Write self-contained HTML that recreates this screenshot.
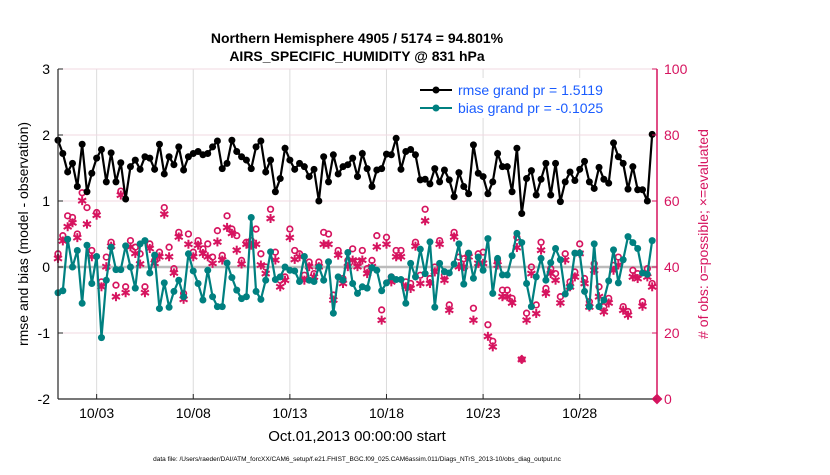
<!DOCTYPE html>
<html><head><meta charset="utf-8"><style>
body{margin:0;background:#fff;}
svg text{font-family:"Liberation Sans",Arial,sans-serif;}
</style></head><body>
<svg id="chart" width="830" height="470" xmlns="http://www.w3.org/2000/svg">
<rect width="830" height="470" fill="#fff"/>
<g id="grid"></g>
<g id="marks"></g>
<g id="axes"></g>
<text x="357" y="43" text-anchor="middle" font-size="14" font-weight="bold">Northern Hemisphere 4905 / 5174 = 94.801%</text>
<text x="357" y="61" text-anchor="middle" font-size="14" font-weight="bold">AIRS_SPECIFIC_HUMIDITY @ 831 hPa</text>
<text transform="translate(28,234) rotate(-90)" text-anchor="middle" font-size="14">rmse and bias (model - observation)</text>
<text transform="translate(708,234) rotate(-90)" text-anchor="middle" font-size="14" fill="#d6145f">     # of obs: o=possible; ×=evaluated</text>
<text x="357" y="441" text-anchor="middle" font-size="15">Oct.01,2013 00:00:00 start</text>
<text x="357" y="461" text-anchor="middle" font-size="6.5">data file: /Users/raeder/DAI/ATM_forcXX/CAM6_setup/f.e21.FHIST_BGC.f09_025.CAM6assim.011/Diags_NTrS_2013-10/obs_diag_output.nc</text>
<g>
<rect x="412" y="78" width="242" height="40" fill="#fff"/>
<line x1="420" y1="90" x2="452" y2="90" stroke="#000" stroke-width="2"/><circle cx="436" cy="90" r="3.5" fill="#000"/>
<text x="458" y="95" font-size="14" fill="#1a5cff">rmse grand pr = 1.5119</text>
<line x1="420" y1="108" x2="452" y2="108" stroke="#008080" stroke-width="2"/><circle cx="436" cy="108" r="3.5" fill="#008080"/>
<text x="458" y="113" font-size="14" fill="#1a5cff">bias grand pr = -0.1025</text>
</g>
</svg>
<script>
const rmse=[1.92,1.72,1.44,1.57,1.22,1.86,1.14,1.42,1.65,1.78,1.29,1.73,1.29,1.58,1.03,1.52,1.62,1.48,1.67,1.65,1.48,1.86,1.41,1.67,1.55,1.82,1.47,1.67,1.72,1.75,
1.70,1.72,1.82,1.91,1.49,1.57,1.92,1.75,1.67,1.62,1.49,1.82,1.91,1.44,1.62,1.14,1.34,1.80,1.62,1.48,1.57,1.52,1.37,1.48,1.00,1.67,1.29,1.70,1.41,1.52,1.55,1.65,1.37,
1.72,1.49,1.22,1.47,1.49,1.71,1.70,1.95,1.48,1.75,1.78,1.70,1.32,1.33,1.26,1.49,1.29,1.47,1.32,1.065,1.43,1.22,1.11,1.85,1.42,1.37,1.11,1.29,1.72,1.52,
1.52,1.14,1.80,0.81,1.34,1.46,1.09,1.33,1.57,1.09,1.57,0.99,1.29,1.44,1.31,1.48,1.60,1.29,1.19,1.51,1.33,1.27,1.88,1.67,1.57,1.18,1.52,1.17,1.17,1.00,2.01];
const bias=[-0.39,-0.36,0.42,0.0,0.25,-0.55,0.33,-0.25,0.16,-1.07,-0.20,0.30,-0.04,-0.04,0.32,0.0,-0.32,0.35,0.40,-0.09,0.18,-0.63,-0.24,-0.61,-0.37,-0.20,-0.45,0.20,-0.06,-0.25,
-0.50,-0.05,-0.45,-0.60,-0.60,0.06,-0.16,-0.35,-0.48,-0.45,0.75,-0.37,-0.49,-0.20,0.23,-0.19,-0.15,0.0,-0.05,-0.06,-0.22,0.16,-0.20,-0.22,0.0,-0.20,0.08,-0.70,-0.15,-0.20,0.22,-0.25,-0.40,
-0.30,-0.32,-0.01,-0.05,-0.36,-0.24,-0.15,-0.19,-0.19,-0.55,0.055,-0.15,0.27,-0.10,0.38,-0.61,0.055,-0.07,-0.09,0.045,0.35,-0.26,0.21,-0.17,0.15,-0.05,0.43,-0.40,0.13,-0.12,
-0.12,0.17,0.51,0.37,-0.25,-0.60,-0.15,0.13,-0.20,0.065,0.28,0.11,-0.41,-0.30,0.21,0.21,-0.37,-0.60,0.35,-0.60,-0.50,-0.21,0.26,-0.24,0.11,0.46,0.37,0.28,-0.09,-0.11,0.40];
const nEval=[42.6,47.9,52.2,53.4,48.9,60.1,53.0,43.1,55.7,34.0,40.1,46.3,31.0,61.8,32.2,46.1,44.1,40.9,32.2,45.6,41.1,43.1,56.0,43.1,38.2,49.1,30.2,46.9,43.1,46.6,
44.1,43.1,41.1,47.6,42.1,52.0,50.2,45.1,40.9,46.9,46.6,46.9,40.6,38.0,54.7,42.1,34.0,36.0,48.9,42.3,43.1,36.0,40.1,37.0,40.1,46.9,46.9,30.0,43.6,35.0,40.1,42.1,40.1,
42.1,38.0,40.1,46.1,23.9,46.9,35.5,43.1,43.1,34.0,33.5,46.3,35.0,54.0,35.0,38.5,46.9,36.0,26.9,49.1,40.1,40.1,43.1,23.9,41.1,41.1,19.0,15.8,40.6,31.0,
31.0,29.1,45.9,12.0,23.9,38.0,25.9,45.1,32.0,38.0,36.0,29.1,42.1,34.0,37.0,44.1,35.0,27.9,39.0,31.0,26.4,29.1,39.0,40.6,26.9,25.4,37.0,36.5,28.1,37.0,34.0,0];
const nPoss=[44,49.5,55.5,55,50,62.5,58,45,56.5,35.5,43,47.5,34.5,63,34,48,46,44,34,47,42,44.5,58,46,39.5,50.5,32,50,44.5,48,
45.5,47,43,51,43.5,55.5,51.5,49.5,42,47.5,48,51.5,44,40,57.5,44.5,36,37,51.5,45,44,37.5,41.5,38,41.5,50.5,50,31.5,45,36.5,42,45.5,41.5,
45,39.5,42,49.5,27,49,37,45,45,35.5,35,47.5,37.5,57.5,36.5,40,48,37.5,28.5,50.5,43,42.5,44,27.5,44,44.5,22.5,17.5,42,33,
33,30.5,49,12,26,40,28.5,47.5,33.5,39.5,38,31,44,35.5,38.5,47,36.5,29.5,41,34,28,30.5,40.5,43,28,26.5,39,38,29.5,39.5,35,0];
const xTicks=["10/03","10/08","10/13","10/18","10/23","10/28"];
const xTickDays=[2,7,12,17,22,27];
const yLeftTicks=[3,2,1,0,-1,-2];
const yRightTicks=[100,80,60,40,20,0];

const NS="http://www.w3.org/2000/svg";
const X0=58,X1=657,Y0=69,Y1=399,NDAYS=31;
const xDay=d=>X0+(X1-X0)*d/NDAYS;
const xIdx=i=>xDay(i/4);
const yL=v=>Y1-(v+2)*(Y1-Y0)/5;
const yR=v=>Y1-v*(Y1-Y0)/100;
function mk(tag,attrs,parent){const e=document.createElementNS(NS,tag);for(const k in attrs)e.setAttribute(k,attrs[k]);parent.appendChild(e);return e;}
const grid=document.getElementById('grid'),marks=document.getElementById('marks'),axes=document.getElementById('axes');
xTickDays.forEach(d=>{const l=mk('line',{x1:xDay(d),x2:xDay(d),y1:Y0,y2:Y1,stroke:'#dcdcdc','stroke-width':1},grid);

});
yLeftTicks.forEach(v=>{const l=mk('line',{x1:X0,x2:X1,y1:yL(v),y2:yL(v),stroke:'#f0d8e2','stroke-width':1},grid);

});
const zl=mk('line',{x1:X0,x2:X1,y1:yL(0),y2:yL(0),stroke:'#bbbbbb','stroke-width':2.5},grid);


nEval.forEach((v,i)=>{const x=xIdx(i),y=yR(v);
const g=mk('g',{stroke:'#d6145f','stroke-width':2},marks);


if(v===0){mk('path',{d:`M${x-4},${y}L${x},${y-4}L${x+4},${y}L${x},${y+4}Z`,fill:'#d6145f'},g);}
else{[[0,4.5],[4,2.3],[4,-2.3]].forEach(([a,b])=>mk('line',{x1:x-a,y1:y-b,x2:x+a,y2:y+b},g));}
});
nPoss.forEach((v,i)=>{if(v===0)return;const c=mk('circle',{cx:xIdx(i),cy:yR(v),r:2.8,fill:'none',stroke:'#d6145f','stroke-width':1.7},marks);

});
function series(vals,color,name){const p=mk('polyline',{points:vals.map((v,i)=>xIdx(i)+','+yL(v)).join(' '),fill:'none',stroke:color,'stroke-width':2.2},marks);


vals.forEach((v,i)=>{const c=mk('circle',{cx:xIdx(i),cy:yL(v),r:3.5,fill:color},marks);

});}
series(bias,'#008080','bias');
series(rmse,'#000000','rmse');
const la=mk('line',{x1:X0,x2:X0,y1:Y0,y2:Y1,stroke:'#262626','stroke-width':1.2},axes);


const ra=mk('line',{x1:X1,x2:X1,y1:Y0,y2:Y1,stroke:'#d6145f','stroke-width':1.5},axes);


const ba=mk('line',{x1:X0,x2:X1,y1:Y1,y2:Y1,stroke:'#262626','stroke-width':1.2},axes);


yLeftTicks.forEach(v=>{mk('line',{x1:X0,x2:X0+5,y1:yL(v),y2:yL(v),stroke:'#262626'},axes);
const t=mk('text',{x:X0-8,y:yL(v)+5,'text-anchor':'end','font-size':14},axes);t.textContent=v;

});
yRightTicks.forEach(v=>{mk('line',{x1:X1-5,x2:X1,y1:yR(v),y2:yR(v),stroke:'#d6145f'},axes);
const t=mk('text',{x:X1+7,y:yR(v)+5,'font-size':14,fill:'#d6145f'},axes);t.textContent=v;

});
xTicks.forEach((s,k)=>{const x=xDay(xTickDays[k]);mk('line',{x1:x,x2:x,y1:Y1-5,y2:Y1,stroke:'#262626'},axes);
const t=mk('text',{x:x,y:Y1+19,'text-anchor':'middle','font-size':14},axes);t.textContent=s;

});
</script>
</body></html>
